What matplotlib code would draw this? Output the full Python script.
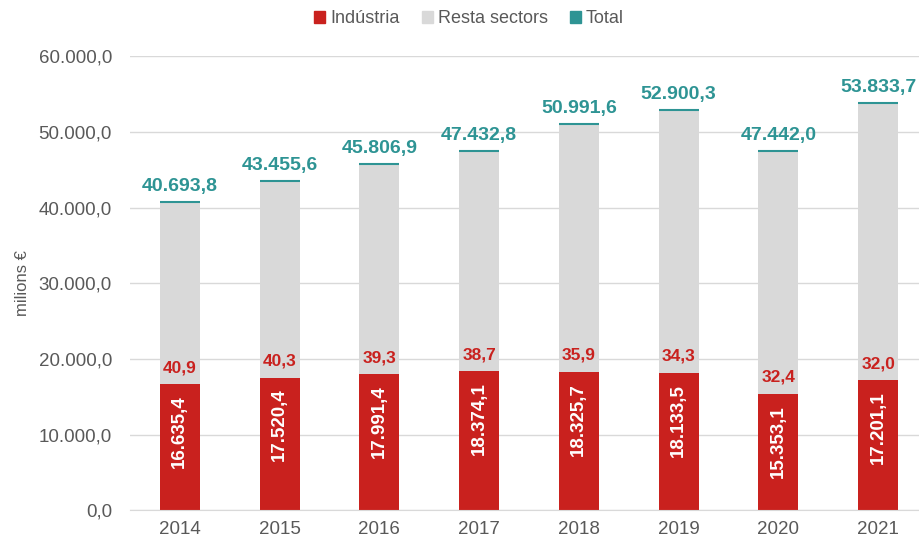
import matplotlib.pyplot as plt
from matplotlib.patches import Patch
import numpy as np

plt.rcParams['font.family'] = ['Liberation Sans', 'DejaVu Sans']

years = ['2014', '2015', '2016', '2017', '2018', '2019', '2020', '2021']
industria = [16635.4, 17520.4, 17991.4, 18374.1, 18325.7, 18133.5, 15353.1, 17201.1]
total = [40693.8, 43455.6, 45806.9, 47432.8, 50991.6, 52900.3, 47442.0, 53833.7]
pct_industria = [40.9, 40.3, 39.3, 38.7, 35.9, 34.3, 32.4, 32.0]

resta = [t - i for t, i in zip(total, industria)]

red = '#C9211E'
gray = '#D9D9D9'
teal = '#2E9494'
txt = '#595959'


def fmt(v):
    s = f'{v:,.1f}'
    return s.replace(',', 'X').replace('.', ',').replace('X', '.')


fig = plt.figure(figsize=(9.2, 5.41), dpi=100)
ax = fig.add_axes([0.1413, 0.057, 0.8587, 0.839])

x = np.arange(len(years))
w = 0.40
ax.bar(x, industria, w, color=red, zorder=2)
ax.bar(x, resta, w, bottom=industria, color=gray, zorder=2)
ax.plot(x, total, linestyle='none', marker='_', markersize=29,
        markeredgewidth=1.5, color=teal, zorder=3)

for xi, ind, tot, p in zip(x, industria, total, pct_industria):
    ax.annotate(fmt(ind), (xi, ind), xytext=(0, -8),
                textcoords='offset points', rotation=90, ha='center', va='top',
                color='white', fontsize=13.5, fontweight='bold', zorder=4)
    ax.annotate(fmt(p).replace('.', ''), (xi, ind), xytext=(0, 6.5),
                textcoords='offset points', ha='center', va='bottom',
                color=red, fontsize=12.5, fontweight='bold', zorder=4)
    ax.annotate(fmt(tot), (xi, tot), xytext=(0, 5),
                textcoords='offset points', ha='center', va='bottom',
                color=teal, fontsize=14, fontweight='bold', zorder=4)

ax.set_ylim(0, 60000)
ax.set_yticks(np.arange(0, 60001, 10000))
ax.set_yticklabels([fmt(v) for v in np.arange(0, 60001, 10000)])
ax.set_xlim(-0.5, 7.42)
ax.set_xticks(x)
ax.set_xticklabels(years)
ax.tick_params(axis='both', length=0, labelsize=13.5, labelcolor=txt, pad=8)
ax.tick_params(axis='y', pad=13)
ax.grid(axis='y', color='#D9D9D9', linewidth=1, zorder=0)
for s in ['top', 'right', 'left']:
    ax.spines[s].set_visible(False)
ax.spines['bottom'].set_color('#D9D9D9')
ax.set_ylabel('milions €', fontsize=12, color=txt, labelpad=6)

handles = [Patch(color=red), Patch(color=gray), Patch(color=teal)]
fig.legend(handles, ['Indústria', 'Resta sectors', 'Total'], loc='center',
           bbox_to_anchor=(0.51, 0.965), ncol=3, frameon=False, fontsize=13,
           handlelength=0.6, handleheight=0.6, handletextpad=0.3,
           columnspacing=1.2, labelcolor=txt)

fig.savefig('out.png', dpi=100)
